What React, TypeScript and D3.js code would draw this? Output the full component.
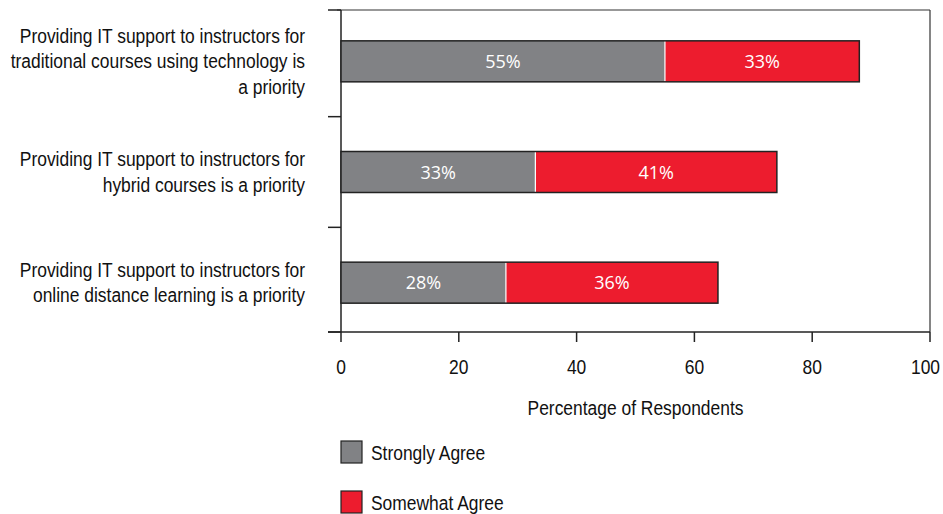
import React from "react";
import * as d3 from "d3";

const categories: string[][] = [
  ["Providing IT support to instructors for", "traditional courses using technology is", "a priority"],
  ["Providing IT support to instructors for", "hybrid courses is a priority"],
  ["Providing IT support to instructors for", "online distance learning is a priority"],
];
const stronglyAgree = [55, 33, 28];
const somewhatAgree = [33, 41, 36];
const seriesNames = ["Strongly Agree", "Somewhat Agree"];
const seriesColors = ["#818285", "#ED1C2E"];
const xTicks = [0, 20, 40, 60, 80, 100];
const xTitle = "Percentage of Respondents";

const W = 943, H = 514;
const left = 341, right = 930, top = 10, bottom = 332;
const labelFont = "'Liberation Sans', Arial, sans-serif";
const barFont = "'Open Sans', sans-serif";
const SX = 0.83;
const FS = 21;

function NText({ x, y, anchor, size, fill, children }: { x: number; y: number; anchor: string; size: number; fill: string; children: React.ReactNode }) {
  return (
    <g transform={`translate(${x},${y}) scale(${SX},1)`}>
      <text x={0} y={0} textAnchor={anchor as any} fontFamily={labelFont} fontSize={size} fill={fill}>{children}</text>
    </g>
  );
}

export default function App() {
  const x = d3.scaleLinear().domain([0, 100]).range([left, right]);
  const y = d3.scaleBand<number>().domain(d3.range(categories.length)).range([6, 338]);
  const barH = 41;
  const stack = d3.stack<number>().keys(["a", "b"]).value((i, k) => (k === "a" ? stronglyAgree[i] : somewhatAgree[i]));
  const series = stack(d3.range(categories.length));
  const center = (i: number) => (y(i) as number) + y.bandwidth() / 2;
  const bounds = [top, ...d3.range(1, categories.length).map((i) => (center(i - 1) + center(i)) / 2), bottom];

  return (
    <svg width={W} height={H} style={{ position: "absolute", left: 0, top: 0, background: "#fff" }}>
      {/* frame */}
      <line x1={left - 4} x2={right} y1={top} y2={top} stroke="#333" strokeWidth={1.2} />
      <line x1={right} x2={right} y1={top} y2={bottom} stroke="#333" strokeWidth={1.2} />
      <line x1={left} x2={left} y1={top} y2={bottom} stroke="#222" strokeWidth={1.5} />
      <line x1={left - 13} x2={right} y1={bottom} y2={bottom} stroke="#222" strokeWidth={1.5} />
      {bounds.map((b, i) => (
        <line key={"yt" + i} x1={left - 13} x2={left} y1={b} y2={b} stroke="#222" strokeWidth={1.5} />
      ))}
      {xTicks.map((t, i) => {
        const last = i === xTicks.length - 1;
        return (
          <g key={"xt" + t}>
            <line x1={x(t)} x2={x(t)} y1={bottom} y2={bottom + 10} stroke="#222" strokeWidth={1.5} />
            <NText x={last ? x(t) + 10 : x(t)} y={374} anchor={last ? "end" : "middle"} size={FS} fill="#111">{t}</NText>
          </g>
        );
      })}
      <NText x={(left + right) / 2} y={415} anchor="middle" size={FS} fill="#111">{xTitle}</NText>

      {/* bars */}
      {series.map((s, si) =>
        s.map((d, i) => {
          const yy = center(i) - barH / 2;
          return (
            <g key={si + "-" + i}>
              <rect x={x(d[0])} y={yy} width={x(d[1]) - x(d[0])} height={barH} fill={seriesColors[si]} />
              <text x={(x(d[0]) + x(d[1])) / 2} y={yy + barH / 2 + 6.5} textAnchor="middle" fontFamily={barFont} fontSize={18} fill="#fff">
                {(d[1] - d[0]) + "%"}
              </text>
            </g>
          );
        })
      )}
      {d3.range(categories.length).map((i) => {
        const yy = center(i) - barH / 2;
        return (
          <g key={"o" + i}>
            <line x1={x(stronglyAgree[i])} x2={x(stronglyAgree[i])} y1={yy} y2={yy + barH} stroke="#fff" strokeWidth={1.2} />
            <rect x={x(0)} y={yy} width={x(stronglyAgree[i] + somewhatAgree[i]) - x(0)} height={barH} fill="none" stroke="#222" strokeWidth={1.5} />
          </g>
        );
      })}

      {/* category labels */}
      {categories.map((lines, i) => {
        const cy = center(i);
        const lh = 25.5;
        const y0 = cy - ((lines.length - 1) * lh) / 2 + 7;
        return (
          <g key={"c" + i}>
            {lines.map((l, j) => (
              <NText key={j} x={305} y={y0 + j * lh} anchor="end" size={FS} fill="#111">{l}</NText>
            ))}
          </g>
        );
      })}

      {/* legend */}
      {seriesNames.map((n, i) => (
        <g key={"lg" + i}>
          <rect x={341} y={441 + i * 50} width={21} height={22} fill={seriesColors[i]} stroke="#222" strokeWidth={1.2} />
          <NText x={371} y={460 + i * 50} anchor="start" size={FS} fill="#111">{n}</NText>
        </g>
      ))}
    </svg>
  );
}
